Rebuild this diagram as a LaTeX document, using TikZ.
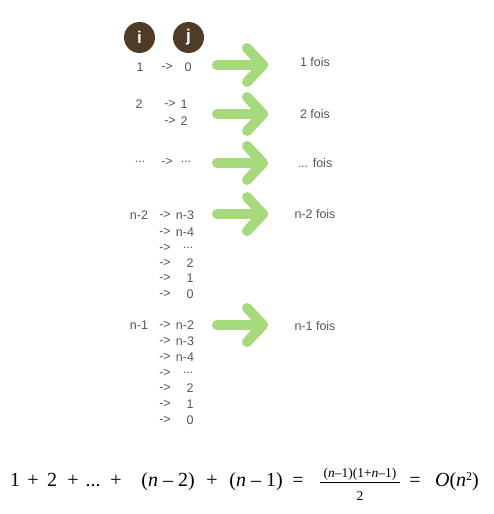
\documentclass[tikz,border=0pt]{standalone}
\usepackage{fontspec}
\setmainfont{Liberation Sans}
\newfontfamily\tms{Liberation Serif}
\newcommand\tdts{...}
\definecolor{brownc}{HTML}{4E3B28}
\definecolor{greenc}{HTML}{A6D87C}
\definecolor{txtc}{HTML}{555555}
\begin{document}
\begin{tikzpicture}[x=1pt,y=-1pt,
  lbl/.style={text=txtc,font=\fontsize{12.5}{14}\selectfont,inner sep=0pt},
  circ/.style={circle,fill=brownc,minimum size=31pt,inner sep=0pt,text=white,font=\fontsize{17}{18}\selectfont\bfseries},
  garrow/.style={draw=greenc,line width=10pt,line cap=round,line join=round},
  fm/.style={font=\tms\fontsize{20}{22}\selectfont,inner sep=0pt,anchor=base},
  fs/.style={font=\tms\fontsize{13.5}{15}\selectfont,inner sep=0pt,anchor=base}]
\useasboundingbox (0,0) rectangle (493,514);
% header circles
\node[circ] (ci) at (139.5,37.5) {i};
\node[circ] (cj) at (188.5,37.5) {j};
% row 1
\node[lbl] (a1) at (140,67) {1};
\node[lbl] (b1) at (167,67) {->};
\node[lbl] (c1) at (188,67) {0};
% row 2
\node[lbl] (a2) at (139,104) {2};
\node[lbl] (b2) at (170,104) {->};
\node[lbl] (c2) at (184,104) {1};
\node[lbl] (b2b) at (170,121) {->};
\node[lbl] (c2b) at (184,121) {2};
% row 3
\node[lbl] (a3) at (140,162) {\tdts};
\node[lbl] (b3) at (167,162) {->};
\node[lbl] (c3) at (186,162) {\tdts};
% block n-2
\node[lbl] (a4) at (139,215) {n-2};
\foreach \yy/\v/\xx [count=\k] in {215/n-3/185,232/n-4/185,248/\tdts/188,263/2/190,278/1/190,294/0/190}{
  \node[lbl] (b4\k) at (165,\yy) {->};
  \node[lbl] (c4\k) at (\xx,\yy) {\v};
}
% block n-1
\node[lbl] (a5) at (139,325) {n-1};
\foreach \yy/\v/\xx [count=\k] in {325/n-2/185,341/n-3/185,357/n-4/185,373/\tdts/188,388/2/190,404/1/190,420/0/190}{
  \node[lbl] (b5\k) at (165,\yy) {->};
  \node[lbl] (c5\k) at (\xx,\yy) {\v};
}
% arrows
\foreach \yy [count=\k] in {65,114,163,214,325}{
  \coordinate (s\k) at (217,\yy);
  \coordinate (t\k) at (263,\yy);
  \coordinate (u\k) at (247,\yy-17);
  \coordinate (d\k) at (247,\yy+17);
  \draw[garrow] (s\k) -- (t\k);
  \draw[garrow] (u\k) -- (t\k) -- (d\k);
}
% fois labels
\node[lbl] (f1) at (315,62) {1 fois};
\node[lbl] (f2) at (315,114) {2 fois};
\node[lbl] (f3) at (315,163) {\tdts{} fois};
\node[lbl] (f4) at (315,214) {n-2 fois};
\node[lbl] (f5) at (315,326) {n-1 fois};
% formula
\node[fm] (e1) at (15,486) {1};
\node[fm] (e2) at (33,486) {+};
\node[fm] (e3) at (52,486) {2};
\node[fm] (e4) at (73,486) {+};
\node[fm] (e5) at (93,486) {...};
\node[fm] (e6) at (116,486) {+};
\node[fm] (e7) at (168,486) {(\textit{n} – 2)};
\node[fm] (e8) at (212,486) {+};
\node[fm] (e9) at (256,486) {(\textit{n} – 1)};
\node[fm] (e10) at (298,486) {=};
\node[fs] (num) at (360,477) {(\textit{n}–1)(1+\textit{n}–1)};
\draw[line width=0.8pt] (320,482) -- (400,482);
\node[fs] (den) at (360,500) {2};
\node[fm] (e11) at (415,486) {=};
\node[fm] (e12) at (457,486) {\textit{O}(\textit{n}\raisebox{0.55ex}{\fontsize{12}{13}\selectfont 2})};
\end{tikzpicture}
\end{document}
